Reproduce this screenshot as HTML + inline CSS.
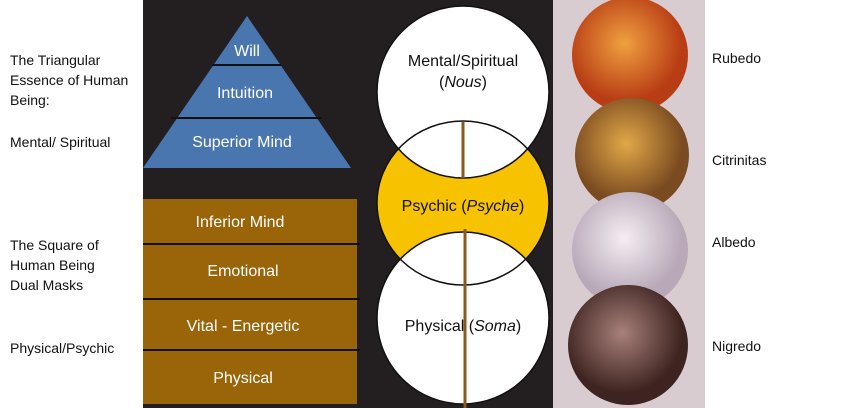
<!DOCTYPE html>
<html><head><style>
body{margin:0;width:850px;height:408px;background:#fff;position:relative;overflow:hidden;font-family:"Liberation Sans",sans-serif}
.l{position:absolute;font-size:14px;line-height:20px;color:#111}
</style></head><body>
<div class="l" style="left:10px;top:50px">The Triangular<br>Essence of Human<br>Being:</div>
<div class="l" style="left:10px;top:132px">Mental/ Spiritual</div>
<div class="l" style="left:10px;top:235px">The Square of<br>Human Being<br>Dual Masks</div>
<div class="l" style="left:10px;top:338px">Physical/Psychic</div>
<div class="l" style="left:712px;top:48px">Rubedo</div>
<div class="l" style="left:712px;top:150px">Citrinitas</div>
<div class="l" style="left:712px;top:232px">Albedo</div>
<div class="l" style="left:712px;top:336px">Nigredo</div>
<svg style="position:absolute;left:0;top:0" width="850" height="408">
<defs>
<radialGradient id="g1" cx="45%" cy="40%"><stop offset="0" stop-color="#f0a040"/><stop offset="1" stop-color="#b83c14"/></radialGradient>
<radialGradient id="g2" cx="45%" cy="40%"><stop offset="0" stop-color="#e0a848"/><stop offset="1" stop-color="#7a4a20"/></radialGradient>
<radialGradient id="g3" cx="45%" cy="40%"><stop offset="0" stop-color="#f4eef2"/><stop offset="1" stop-color="#b8a8b8"/></radialGradient>
<radialGradient id="g4" cx="45%" cy="40%"><stop offset="0" stop-color="#a8807a"/><stop offset="1" stop-color="#3e2420"/></radialGradient>
</defs>
<rect x="143" y="0" width="410" height="408" fill="#231f20"/>
<polygon points="247,16 143,168 351,168" fill="#4a76b0"/>
<line x1="212" y1="65" x2="281" y2="65" stroke="#111" stroke-width="2"/>
<line x1="171" y1="118" x2="322" y2="118" stroke="#111" stroke-width="2"/>
<g fill="#fff" font-size="16" text-anchor="middle" font-family="Liberation Sans,sans-serif">
<text x="247" y="56">Will</text><text x="245" y="98">Intuition</text><text x="242" y="147">Superior Mind</text></g>
<rect x="143" y="199" width="214" height="205" fill="#9a6408"/>
<g stroke="#111" stroke-width="2"><line x1="143" y1="244" x2="360" y2="244"/><line x1="143" y1="299" x2="360" y2="299"/><line x1="143" y1="350" x2="360" y2="350"/></g>
<g fill="#fff" font-size="16" text-anchor="middle" font-family="Liberation Sans,sans-serif">
<text x="240" y="227">Inferior Mind</text><text x="243" y="276">Emotional</text><text x="243" y="331">Vital - Energetic</text><text x="243" y="383">Physical</text></g>
<ellipse cx="463" cy="203" rx="86" ry="82" fill="#f7c200"/>
<circle cx="463" cy="92" r="86" fill="#fff"/>
<circle cx="463" cy="318" r="86" fill="#fff"/>
<g fill="none" stroke="#111" stroke-width="1.5">
<circle cx="463" cy="92" r="86"/>
<ellipse cx="463" cy="203" rx="86" ry="82"/>
<circle cx="463" cy="318" r="86"/></g>
<line x1="463" y1="122" x2="463" y2="178" stroke="#8a5a1a" stroke-width="3"/>
<line x1="465" y1="229" x2="465" y2="408" stroke="#8a5a1a" stroke-width="3"/>
<g fill="#111" font-size="16" text-anchor="middle" font-family="Liberation Sans,sans-serif">
<text x="463" y="66">Mental/Spiritual</text><text x="463" y="87">(<tspan font-style="italic">Nous</tspan>)</text>
<text x="463" y="211">Psychic (<tspan font-style="italic">Psyche</tspan>)</text>
<text x="463" y="331">Physical  (<tspan font-style="italic">Soma</tspan>)</text></g>
<rect x="553" y="0" width="152" height="408" fill="#d8ccd0"/>
<circle cx="630" cy="55" r="58" fill="url(#g1)"/>
<circle cx="632" cy="155" r="57" fill="url(#g2)"/>
<circle cx="630" cy="250" r="58" fill="url(#g3)"/>
<circle cx="628" cy="345" r="60" fill="url(#g4)"/>
</svg>
</body></html>
